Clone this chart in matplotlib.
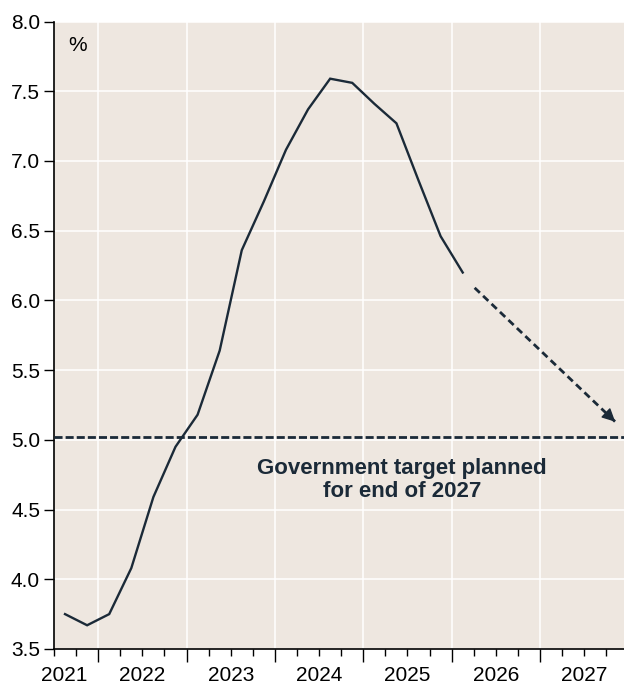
import matplotlib.pyplot as plt
import numpy as np

# quarterly series (mid-quarter positions)
quarters = [
    2021.625, 2021.875, 2022.125, 2022.375, 2022.625, 2022.875,
    2023.125, 2023.375, 2023.625, 2023.875, 2024.125, 2024.375,
    2024.625, 2024.875, 2025.125, 2025.375, 2025.625, 2025.875,
    2026.125,
]
values = [
    3.75, 3.67, 3.75, 4.08, 4.59, 4.95,
    5.18, 5.64, 6.36, 6.71, 7.08, 7.37,
    7.59, 7.56, 7.41, 7.27, 6.86, 6.46,
    6.20,
]

# projected path towards the target
proj_x = [2026.26, 2027.85]
proj_y = [6.09, 5.13]

target = 5.02
year_labels = ["2021", "2022", "2023", "2024", "2025", "2026", "2027"]
label_pos = [2021.62, 2022.5, 2023.5, 2024.5, 2025.5, 2026.5, 2027.5]
year_edges = [2022, 2023, 2024, 2025, 2026, 2027]

navy = "#1b2a38"
bg = "#eee7e0"

plt.rcParams["font.family"] = ["Liberation Sans", "DejaVu Sans"]

fig = plt.figure(figsize=(6.24, 6.85), dpi=100)
ax = fig.add_axes([0.0865, 0.0526, 0.9135, 0.916])
ax.set_facecolor(bg)

ax.plot(quarters, values, color=navy, lw=1.7, solid_joinstyle="miter", zorder=3)
ax.axhline(target, color=navy, lw=2, dashes=(2.9, 1.1), zorder=3)

# dashed projection, solid arrow head on the last bit
ax.plot(proj_x, proj_y, color=navy, lw=2, dashes=(2.6, 1.6), zorder=3)
head_from = (proj_x[1] - 0.08 * (proj_x[1] - proj_x[0]),
             proj_y[1] - 0.08 * (proj_y[1] - proj_y[0]))
ax.annotate(
    "",
    xy=(proj_x[1], proj_y[1]),
    xytext=head_from,
    arrowprops=dict(
        arrowstyle="-|>,head_length=0.8,head_width=0.4",
        color=navy,
        lw=1,
        shrinkA=0,
        shrinkB=0,
    ),
    zorder=4,
)

ax.text(
    2025.44, 4.71,
    "Government target planned\nfor end of 2027",
    ha="center", va="center", fontsize=16, fontweight="bold",
    color=navy, linespacing=1.1,
)
ax.text(0.042, 0.962, "%", transform=ax.transAxes, fontsize=15,
        ha="center", va="center")

ax.set_xlim(2021.5, 2027.95)
ax.set_ylim(3.5, 8.0)

ax.set_yticks(np.arange(3.5, 8.01, 0.5))
ax.set_yticklabels([f"{v:.1f}" for v in np.arange(3.5, 8.01, 0.5)])
ax.set_xticks(year_edges)
ax.set_xticklabels([])
ax.set_xticks(np.arange(2021.5, 2028, 0.25), minor=True)

ax.grid(True, which="major", color="white", lw=1.1, zorder=0)
ax.set_axisbelow(True)

ax.tick_params(axis="y", length=7, width=1, labelsize=15, pad=3)
ax.tick_params(axis="x", which="major", length=9, width=1)
ax.tick_params(axis="x", which="minor", length=5, width=1)

for side in ["top", "right"]:
    ax.spines[side].set_visible(False)
for side in ["left", "bottom"]:
    ax.spines[side].set_linewidth(1.2)

sec = ax.secondary_xaxis("bottom")
sec.set_xticks(label_pos)
sec.set_xticklabels(year_labels)
sec.tick_params(length=0, labelsize=15, pad=12)
sec.spines["bottom"].set_visible(False)

fig.savefig("out.png", dpi=100)
